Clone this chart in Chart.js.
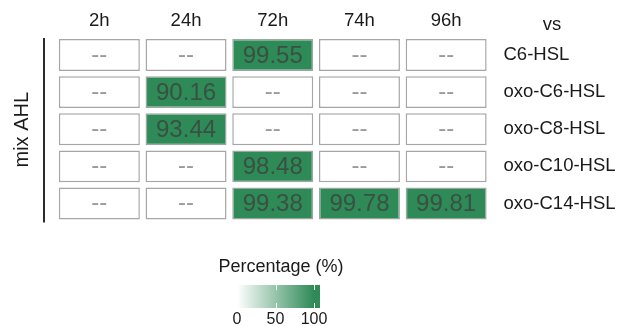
<!DOCTYPE html>
<html>
<head>
<meta charset="utf-8">
<script src="https://cdn.jsdelivr.net/npm/chart.js@4/dist/chart.umd.min.js"></script>
<style>
html,body{margin:0;padding:0;background:#fff;}
#wrap{width:620px;height:326px;}
</style>
</head>
<body>
<div id="wrap"><canvas id="c" width="620" height="326"></canvas></div>
<script>
const timepoints = ['2h', '24h', '72h', '74h', '96h'];
const compounds = ['C6-HSL', 'oxo-C6-HSL', 'oxo-C8-HSL', 'oxo-C10-HSL', 'oxo-C14-HSL'];
const valsC6 = [null, null, 99.55, null, null];
const valsOxoC6 = [null, 90.16, null, null, null];
const valsOxoC8 = [null, 93.44, null, null, null];
const valsOxoC10 = [null, null, 98.48, null, null];
const valsOxoC14 = [null, null, 99.38, 99.78, 99.81];
const legendTicks = [0, 50, 100];
const groupLabel = 'mix AHL';
const cornerLabel = 'vs';
const legendTitle = 'Percentage (%)';

const rows = [valsC6, valsOxoC6, valsOxoC8, valsOxoC10, valsOxoC14];
const GREEN = '#2e8a57';
const FONT = '"Liberation Sans", Arial, Helvetica, sans-serif';
const HALF = 0.43;

const datasets = rows.map((vals, r) => ({
  label: compounds[r],
  data: vals.map(() => [r - HALF, r + HALF]),
  values: vals,
  backgroundColor: vals.map(v => v == null ? '#ffffff' : GREEN),
  borderColor: vals.map(v => v == null ? '#a6a6a6' : '#9aa89f'),
  borderWidth: 1.5,
  borderSkipped: false,
  grouped: false,
  barPercentage: 0.934,
  categoryPercentage: 1
}));

const cellText = {
  id: 'cellText',
  afterDatasetsDraw(chart) {
    const ctx = chart.ctx;
    ctx.save();
    ctx.textAlign = 'center';
    ctx.textBaseline = 'middle';
    chart.data.datasets.forEach((ds, di) => {
      const meta = chart.getDatasetMeta(di);
      meta.data.forEach((el, i) => {
        const v = ds.values[i];
        const cx = el.x;
        const cy = (el.y + el.base) / 2;
        ctx.font = '24px ' + FONT;
        if (v == null) {
          ctx.fillStyle = '#9a9a9a';
          ctx.fillText('--', cx, cy);
        } else {
          ctx.fillStyle = 'rgba(60,64,62,0.78)';
          ctx.fillText(v.toFixed(2), cx, cy + 1);
        }
      });
    });
    ctx.restore();
  }
};

const extras = {
  id: 'extras',
  afterDraw(chart) {
    const ctx = chart.ctx;
    const ys = chart.scales.y;
    ctx.save();
    ctx.font = '18.5px ' + FONT;
    ctx.fillStyle = '#1a1a1a';
    ctx.textAlign = 'center';
    ctx.textBaseline = 'middle';
    ctx.fillText(cornerLabel, 552, 25);
    const top = ys.getPixelForValue(-HALF) + 1;
    const bot = ys.getPixelForValue(rows.length - 1 + HALF);
    ctx.strokeStyle = '#2b2b2b';
    ctx.lineWidth = 2;
    ctx.beginPath();
    ctx.moveTo(44, top - 2);
    ctx.lineTo(44, bot + 3);
    ctx.stroke();
    ctx.save();
    ctx.translate(22, (top + bot) / 2);
    ctx.rotate(-Math.PI / 2);
    ctx.fillStyle = '#1a1a1a';
    ctx.font = '20px ' + FONT;
    ctx.fillText(groupLabel, 0, 0);
    ctx.restore();
    const x0 = 237, x100 = 314, bx1 = 320, by0 = 285, by1 = 308;
    ctx.font = '18px ' + FONT;
    ctx.fillText(legendTitle, 281, 267);
    const g = ctx.createLinearGradient(x0, 0, x100, 0);
    g.addColorStop(0, 'rgba(255,255,255,1)');
    g.addColorStop(1, GREEN);
    ctx.fillStyle = g;
    ctx.fillRect(x0, by0, bx1 - x0, by1 - by0);
    ctx.fillStyle = GREEN;
    ctx.fillRect(x100, by0, bx1 - x100, by1 - by0);
    const px = v => x0 + (x100 - x0) * v / 100;
    ctx.strokeStyle = '#ffffff';
    ctx.lineWidth = 1;
    legendTicks.forEach(t => {
      if (t === 0) return;
      const x = Math.round(px(t)) + 0.5;
      ctx.beginPath();
      ctx.moveTo(x, by0); ctx.lineTo(x, by0 + 5);
      ctx.moveTo(x, by1 - 5); ctx.lineTo(x, by1);
      ctx.stroke();
    });
    ctx.fillStyle = '#1a1a1a';
    ctx.font = '16px ' + FONT;
    legendTicks.forEach(t => ctx.fillText(String(t), px(t), 320));
    ctx.restore();
  }
};

new Chart(document.getElementById('c'), {
  type: 'bar',
  data: { labels: timepoints, datasets },
  options: {
    responsive: false,
    animation: false,
    devicePixelRatio: 1,
    layout: { padding: { left: 56, right: 0, top: 0, bottom: 104 } },
    plugins: { legend: { display: false }, tooltip: { enabled: false } },
    scales: {
      x: {
        position: 'top',
        offset: true,
        grid: { display: false, drawTicks: false },
        border: { display: false },
        ticks: { color: '#1a1a1a', font: { family: FONT, size: 18.5 }, padding: 4 },
        afterFit(s) { s.height = 36.5; }
      },
      y: {
        type: 'linear',
        position: 'right',
        reverse: true,
        min: -0.5,
        max: rows.length - 0.5,
        grid: { display: false, drawTicks: false },
        border: { display: false },
        afterBuildTicks(s) { s.ticks = compounds.map((_, i) => ({ value: i })); },
        ticks: {
          color: '#1a1a1a',
          font: { family: FONT, size: 18.5 },
          padding: 14,
          callback: (v) => compounds[v] ?? ''
        },
        afterFit(s) { s.width = 130.5; }
      }
    }
  },
  plugins: [cellText, extras]
});
</script>
</body>
</html>
